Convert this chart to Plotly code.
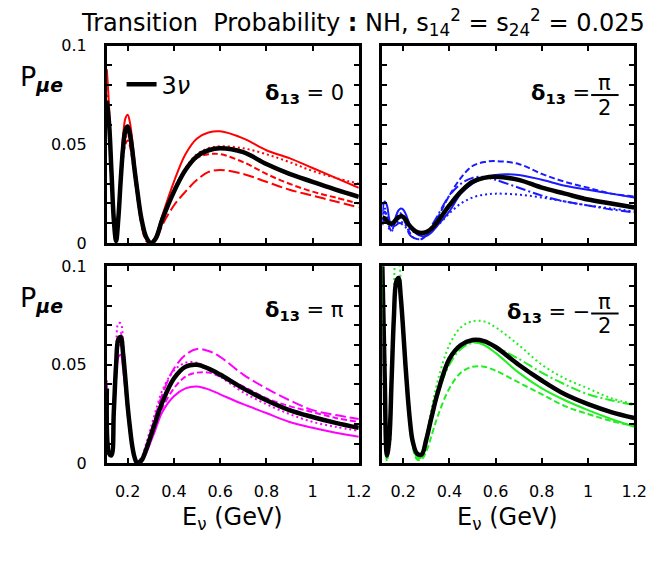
import plotly.graph_objects as go
from plotly.subplots import make_subplots

# Neutrino energy grid (GeV)
energy = [0.11, 0.12, 0.13, 0.14, 0.15, 0.16, 0.17, 0.18, 0.19, 0.20,
          0.21, 0.22, 0.23, 0.24, 0.26, 0.28, 0.30, 0.32, 0.35, 0.40,
          0.45, 0.50, 0.55, 0.60, 0.70, 0.80, 0.90, 1.00, 1.10, 1.20]

# delta_13 = 0
d0_3nu = [0.072, 0.060, 0.036, 0.012, 0.001, 0.013, 0.032, 0.048, 0.057, 0.059,
          0.055, 0.047, 0.037, 0.028, 0.012, 0.003, 0.000, 0.002, 0.012, 0.026,
          0.037, 0.044, 0.047, 0.048, 0.046, 0.040, 0.035, 0.031, 0.027, 0.0234]
d0_solid = [0.088, 0.068, 0.040, 0.013, 0.001, 0.015, 0.036, 0.054, 0.063, 0.065,
            0.061, 0.052, 0.041, 0.031, 0.013, 0.003, 0.000, 0.003, 0.014, 0.031,
            0.045, 0.053, 0.056, 0.0566, 0.053, 0.047, 0.043, 0.038, 0.033, 0.028]
d0_dot = [0.075, 0.058, 0.034, 0.011, 0.001, 0.012, 0.030, 0.045, 0.053, 0.055,
          0.052, 0.044, 0.035, 0.026, 0.011, 0.003, 0.000, 0.003, 0.013, 0.027,
          0.038, 0.045, 0.048, 0.049, 0.048, 0.045, 0.041, 0.0365, 0.033, 0.030]
d0_dash = [0.070, 0.054, 0.031, 0.010, 0.001, 0.011, 0.028, 0.043, 0.050, 0.052,
           0.049, 0.042, 0.033, 0.025, 0.010, 0.002, 0.000, 0.003, 0.013, 0.027,
           0.037, 0.043, 0.045, 0.045, 0.041, 0.035, 0.030, 0.026, 0.023, 0.020]
d0_ldash = [0.072, 0.056, 0.032, 0.010, 0.001, 0.012, 0.030, 0.046, 0.054, 0.056,
            0.052, 0.044, 0.034, 0.025, 0.009, 0.001, 0.000, 0.001, 0.009, 0.019,
            0.026, 0.032, 0.036, 0.037, 0.035, 0.031, 0.027, 0.024, 0.021, 0.018]

# delta_13 = pi/2
d90_3nu = [0.013, 0.0125, 0.011, 0.010, 0.0098, 0.0105, 0.012, 0.013, 0.0135, 0.0132,
           0.0118, 0.010, 0.0085, 0.0072, 0.0055, 0.005, 0.0055, 0.007, 0.011, 0.019,
           0.026, 0.031, 0.033, 0.0335, 0.032, 0.028, 0.025, 0.022, 0.020, 0.018]
d90_solid = [0.014, 0.021, 0.019, 0.012, 0.0085, 0.010, 0.014, 0.0165, 0.0175, 0.017,
             0.015, 0.012, 0.009, 0.007, 0.0045, 0.0035, 0.0035, 0.005, 0.009, 0.016,
             0.025, 0.030, 0.033, 0.0345, 0.0345, 0.032, 0.029, 0.027, 0.025, 0.023]
d90_dash = [0.010, 0.016, 0.014, 0.008, 0.006, 0.009, 0.013, 0.015, 0.015, 0.013,
            0.010, 0.007, 0.005, 0.003, 0.002, 0.002, 0.004, 0.007, 0.013, 0.024,
            0.033, 0.039, 0.041, 0.0415, 0.040, 0.035, 0.031, 0.028, 0.025, 0.0235]
d90_dot = [0.020, 0.018, 0.012, 0.007, 0.006, 0.008, 0.010, 0.011, 0.011, 0.010,
           0.009, 0.008, 0.007, 0.006, 0.005, 0.005, 0.006, 0.007, 0.009, 0.015,
           0.020, 0.023, 0.0245, 0.025, 0.0245, 0.023, 0.021, 0.019, 0.0175, 0.016]
d90_dashdot = [0.009, 0.012, 0.012, 0.011, 0.010, 0.009, 0.009, 0.010, 0.010, 0.009,
               0.008, 0.006, 0.004, 0.003, 0.002, 0.002, 0.004, 0.008, 0.014, 0.024,
               0.030, 0.033, 0.0335, 0.032, 0.028, 0.024, 0.021, 0.019, 0.017, 0.0155]

# delta_13 = pi
d180_3nu = [0.038, 0.005, 0.004, 0.026, 0.050, 0.063, 0.064, 0.056, 0.043, 0.029,
            0.018, 0.0087, 0.003, 0.0003, 0.0015, 0.007, 0.014, 0.021, 0.031, 0.043,
            0.049, 0.050, 0.048, 0.045, 0.038, 0.032, 0.027, 0.0235, 0.0205, 0.018]
d180_solid = [0.030, 0.004, 0.004, 0.022, 0.043, 0.054, 0.055, 0.048, 0.037, 0.025,
              0.015, 0.007, 0.0025, 0.0003, 0.001, 0.005, 0.011, 0.017, 0.026, 0.034,
              0.038, 0.039, 0.0375, 0.035, 0.030, 0.0255, 0.021, 0.018, 0.0155, 0.0135]
d180_ldash = [0.040, 0.006, 0.004, 0.027, 0.052, 0.065, 0.066, 0.058, 0.044, 0.030,
              0.018, 0.009, 0.003, 0.0005, 0.002, 0.008, 0.016, 0.024, 0.035, 0.048,
              0.055, 0.058, 0.057, 0.054, 0.045, 0.038, 0.032, 0.027, 0.0245, 0.0225]
d180_dash = [0.034, 0.005, 0.004, 0.024, 0.047, 0.059, 0.060, 0.053, 0.040, 0.027,
             0.016, 0.008, 0.003, 0.0004, 0.0015, 0.006, 0.013, 0.019, 0.028, 0.038,
             0.044, 0.046, 0.046, 0.044, 0.039, 0.033, 0.029, 0.026, 0.023, 0.021]
d180_dot = [0.042, 0.007, 0.005, 0.030, 0.057, 0.071, 0.071, 0.062, 0.047, 0.032,
            0.020, 0.010, 0.004, 0.001, 0.003, 0.010, 0.018, 0.026, 0.037, 0.047,
            0.051, 0.051, 0.048, 0.044, 0.036, 0.030, 0.025, 0.021, 0.0185, 0.0165]

# delta_13 = -pi/2
dm90_3nu = [0.100, 0.045, 0.004, 0.012, 0.042, 0.074, 0.092, 0.094, 0.084, 0.068,
            0.050, 0.034, 0.021, 0.012, 0.005, 0.0045, 0.012, 0.022, 0.036, 0.053,
            0.060, 0.0625, 0.062, 0.059, 0.050, 0.042, 0.035, 0.030, 0.026, 0.023]
dm90_solid = [0.100, 0.050, 0.006, 0.010, 0.038, 0.070, 0.089, 0.091, 0.081, 0.065,
              0.048, 0.032, 0.020, 0.011, 0.003, 0.003, 0.010, 0.021, 0.035, 0.052,
              0.059, 0.0615, 0.060, 0.056, 0.046, 0.038, 0.032, 0.027, 0.0225, 0.0185]
dm90_dot = [0.100, 0.060, 0.010, 0.008, 0.040, 0.078, 0.104, 0.103, 0.090, 0.072,
            0.053, 0.036, 0.022, 0.012, 0.004, 0.005, 0.014, 0.026, 0.042, 0.060,
            0.069, 0.072, 0.072, 0.069, 0.060, 0.050, 0.043, 0.038, 0.033, 0.030]
dm90_dash = [0.100, 0.040, 0.001, 0.012, 0.040, 0.070, 0.087, 0.089, 0.079, 0.063,
             0.046, 0.030, 0.018, 0.009, 0.002, 0.002, 0.006, 0.013, 0.024, 0.038,
             0.046, 0.049, 0.049, 0.047, 0.041, 0.035, 0.029, 0.025, 0.0215, 0.019]
dm90_dashdot = [0.100, 0.048, 0.005, 0.011, 0.041, 0.072, 0.090, 0.092, 0.082, 0.066,
                0.049, 0.033, 0.021, 0.012, 0.005, 0.005, 0.012, 0.022, 0.035, 0.050,
                0.058, 0.061, 0.061, 0.059, 0.053, 0.046, 0.040, 0.035, 0.032, 0.0295]

x_ticks = [0.2, 0.4, 0.6, 0.8, 1.0, 1.2]
x_ticktext = ["0.2", "0.4", "0.6", "0.8", "1", "1.2"]
y_ticks = [0, 0.05, 0.1]
y_ticktext = ["0", "0.05", "0.1"]

DOT = "2px,3px"
DASH = "6px,3px"
LDASH = "11px,4px"
DASHDOT = "10px,3px,2px,3px"

panels = [
    (1, 1, "#ff0000", d0_3nu,
     [(d0_solid, "solid"), (d0_dot, DOT), (d0_dash, DASH), (d0_ldash, LDASH)]),
    (1, 2, "#1a1aff", d90_3nu,
     [(d90_solid, "solid"), (d90_dash, DASH), (d90_dot, DOT), (d90_dashdot, DASHDOT)]),
    (2, 1, "#ff00ff", d180_3nu,
     [(d180_solid, "solid"), (d180_ldash, LDASH), (d180_dash, DASH), (d180_dot, DOT)]),
    (2, 2, "#22ee22", dm90_3nu,
     [(dm90_solid, "solid"), (dm90_dot, DOT), (dm90_dash, DASH), (dm90_dashdot, DASHDOT)]),
]

W, H = 661, 570
fig = make_subplots(rows=2, cols=2)

for r, c, color, std, curves in panels:
    for vals, dash in curves:
        fig.add_trace(go.Scatter(x=energy, y=vals, mode="lines",
                                 line=dict(color=color, width=2, dash=dash, shape="spline", smoothing=1.0),
                                 showlegend=False, hoverinfo="skip"), row=r, col=c)
    fig.add_trace(go.Scatter(x=energy, y=std, mode="lines", name="3<i>\u03bd</i>",
                             line=dict(color="black", width=4.5, shape="spline", smoothing=1.0),
                             showlegend=(r == 1 and c == 1), hoverinfo="skip"), row=r, col=c)

col_dom = [[109 / W, 366 / W], [390 / W, 647 / W]]
row_dom = [[1 - 242 / H, 1 - 38 / H], [1 - 470 / H, 1 - 266 / H]]

tick_font = dict(family="DejaVu Sans", size=16, color="black")
for r in (1, 2):
    for c in (1, 2):
        fig.update_xaxes(range=[0.11, 1.2], domain=col_dom[c - 1], tickvals=x_ticks, ticktext=x_ticktext,
                         ticks="inside", ticklen=5, tickwidth=1.5, tickcolor="black",
                         showline=True, linewidth=3, linecolor="black", mirror="ticks",
                         showgrid=False, zeroline=False, showticklabels=(r == 2),
                         tickfont=tick_font, ticklabelstandoff=11, row=r, col=c)
        fig.update_yaxes(range=[0, 0.1], domain=row_dom[r - 1], tickvals=y_ticks, ticktext=y_ticktext,
                         ticks="inside", ticklen=5, tickwidth=1.5, tickcolor="black",
                         minor=dict(dtick=0.01, ticks="inside", ticklen=5, tickwidth=1.5, tickcolor="black"),
                         showline=True, linewidth=3, linecolor="black", mirror="ticks",
                         showgrid=False, zeroline=False, showticklabels=(c == 1),
                         tickfont=tick_font, ticklabelstandoff=14, row=r, col=c)

ann = []
txt_font = dict(family="DejaVu Sans", color="black")
ann.append(dict(text="Transition  Probability <b>:</b> NH, s<sub>14</sub><sup>2</sup> = s<sub>24</sub><sup>2</sup> = 0.025",
                x=370 / W, y=1 - 14 / H, xref="paper", yref="paper", showarrow=False,
                font=dict(txt_font, size=24), xanchor="center", yanchor="middle"))
for py in (72, 300):
    ann.append(dict(text="P<sub><b><i>\u03bce</i></b></sub>", x=18 / W, y=1 - py / H, xref="paper", yref="paper",
                    showarrow=False, font=dict(txt_font, size=27), xanchor="left", yanchor="middle"))
for cx in (237, 518):
    ann.append(dict(text="E<sub>\u03bd</sub> (GeV)", x=cx / W, y=1 - 527 / H, xref="paper", yref="paper",
                    showarrow=False, font=dict(txt_font, size=24), xanchor="center", yanchor="middle"))

delta = "<b>\u03b4</b><sub><b>13</b></sub>"
ann.append(dict(text=delta + " = 0", x=353 / W, y=1 - 88 / H, xref="paper", yref="paper",
                showarrow=False, font=dict(txt_font, size=21), xanchor="right", yanchor="middle"))
ann.append(dict(text=delta + " = \u03c0", x=353 / W, y=1 - 312 / H, xref="paper", yref="paper",
                showarrow=False, font=dict(txt_font, size=21), xanchor="right", yanchor="middle"))
# fractions pi/2
ann.append(dict(text=delta + " =", x=604 / W, y=1 - 88 / H, xref="paper", yref="paper",
                showarrow=False, font=dict(txt_font, size=21), xanchor="right", yanchor="middle"))
ann.append(dict(text=delta + " = \u2212", x=604 / W, y=1 - 314 / H, xref="paper", yref="paper",
                showarrow=False, font=dict(txt_font, size=21), xanchor="right", yanchor="middle"))
shapes = []
for ybar in (89, 315):
    ann.append(dict(text="\u03c0", x=617 / W, y=1 - (ybar - 12) / H, xref="paper", yref="paper",
                    showarrow=False, font=dict(txt_font, size=21), xanchor="center", yanchor="middle"))
    ann.append(dict(text="2", x=617 / W, y=1 - (ybar + 13) / H, xref="paper", yref="paper",
                    showarrow=False, font=dict(txt_font, size=21), xanchor="center", yanchor="middle"))
    shapes.append(dict(type="line", xref="paper", yref="paper", x0=603 / W, x1=631 / W,
                       y0=1 - ybar / H, y1=1 - ybar / H, line=dict(color="black", width=2)))

fig.update_layout(width=W, height=H, margin=dict(l=0, r=0, t=0, b=0),
                  paper_bgcolor="white", plot_bgcolor="white",
                  annotations=ann, shapes=shapes,
                  legend=dict(x=124 / W, y=1 - 55 / H, xanchor="left", yanchor="top",
                              bgcolor="rgba(0,0,0,0)", font=dict(family="DejaVu Sans", size=24, color="black"),
                              itemwidth=30, tracegroupgap=0))

fig.write_html("out.html")
